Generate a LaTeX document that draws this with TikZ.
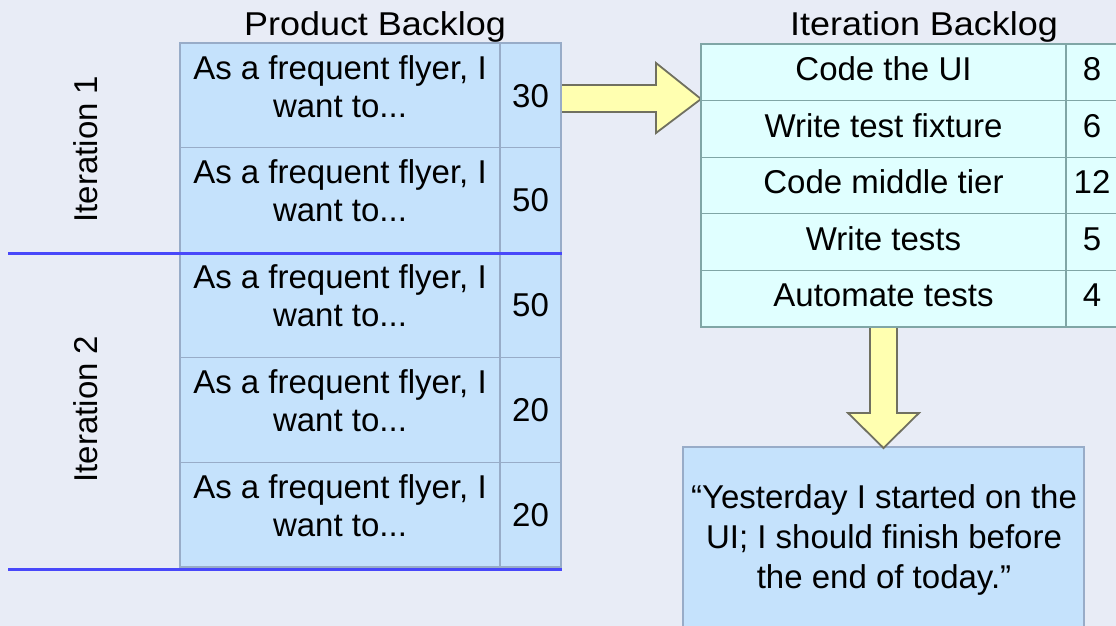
\documentclass[tikz,border=0pt]{standalone}
\usepackage{fontspec}
\usepackage{graphicx}
\setmainfont{Liberation Sans}
\usetikzlibrary{calc}

\definecolor{paper}{RGB}{232,236,246}
\definecolor{pbfill}{RGB}{197,226,252}
\definecolor{pbline}{RGB}{152,172,200}
\definecolor{ibfill}{RGB}{224,255,255}
\definecolor{ibline}{RGB}{128,166,166}
\definecolor{sepblue}{RGB}{72,72,250}
\definecolor{arrowfill}{RGB}{255,255,176}
\definecolor{arrowline}{RGB}{112,112,96}

\begin{document}
\begin{tikzpicture}[x=1pt,y=-1pt,
  every node/.style={inner sep=0pt, outer sep=0pt, font=\fontsize{33}{38}\selectfont},
  pcell/.style={draw=pbline, fill=pbfill, line width=1.2pt, anchor=north west, minimum height=104.8pt},
  icell/.style={draw=ibline, fill=ibfill, line width=1.2pt, anchor=north west, minimum height=56.6pt},
  quotebox/.style={draw=pbline, fill=pbfill, line width=1.2pt, anchor=north west, minimum width=401pt, minimum height=190pt},
  title/.style={anchor=base},
  celltext/.style={anchor=base},
  blockarrow/.style={draw=arrowline, fill=arrowfill, line width=1.8pt, line join=miter},
  separator/.style={draw=sepblue, line width=3pt}
]
% page and background paper
\useasboundingbox (0,0) rectangle (1116,626);
\fill[paper] (0,0) rectangle (1116,626);

% titles
\node[title] (ptitle) at (375,36) {\scalebox{1.09}[1]{Product Backlog}};
\node[title] (ititle) at (924,36) {\scalebox{1.09}[1]{Iteration Backlog}};

% anchor points used by the block arrows (tables are placed below)
\coordinate (itTopLeft) at (701,44);
\coordinate (quoteTop) at (683,447);

% quote box (drawn first so the down arrow can overlap its edge)
\node[quotebox] (quote) at (quoteTop) {};

% block arrow: product backlog -> iteration backlog
\coordinate (rtip) at ($(itTopLeft)+(0,55)$);
\draw[blockarrow] (rtip)
  -- ($(rtip)+(-45,34)$) -- ($(rtip)+(-45,13)$) -- ($(rtip)+(-156,13)$)
  -- ($(rtip)+(-156,-14)$) -- ($(rtip)+(-45,-14)$) -- ($(rtip)+(-45,-36)$) -- cycle;

% block arrow: iteration backlog -> daily stand-up quote
\coordinate (dtip) at ($(quote.north)+(0,1)$);
\draw[blockarrow] (dtip)
  -- ($(dtip)+(-35.5,-35)$) -- ($(dtip)+(-13.5,-35)$) -- ($(dtip)+(-13.5,-130)$)
  -- ($(dtip)+(13.5,-130)$) -- ($(dtip)+(13.5,-35)$) -- ($(dtip)+(35.5,-35)$) -- cycle;

% product backlog table
\foreach \i/\n in {1/30,2/50,3/50,4/20,5/20} {
  \pgfmathsetmacro\rowtop{43+104.8*(\i-1)}
  \node[pcell, minimum width=320pt] (pl\i) at (180,\rowtop) {};
  \node[pcell, minimum width=61pt] (pn\i) at (500,\rowtop) {};
  \node[celltext] (pt\i) at ($(pl\i.north)+(0,36)$)
    {\begin{tabular}[t]{@{}c@{}}As a frequent flyer, I\\want to...\end{tabular}};
  \node[celltext] (pv\i) at ($(pn\i.north)+(0,64)$) {\n};
}

% iteration backlog table
\foreach \i/\t/\n in {1/Code the UI/8,2/Write test fixture/6,3/Code middle tier/12,4/Write tests/5,5/Automate tests/4} {
  \pgfmathsetmacro\rowtop{44+56.6*(\i-1)}
  \node[icell, minimum width=365pt] (it\i) at (701,\rowtop) {};
  \node[icell, minimum width=52pt] (in\i) at (1066,\rowtop) {};
  \node[celltext] (itt\i) at ($(it\i.north)+(0,36.5)$) {\t};
  \node[celltext] (inv\i) at ($(in\i.north)+(0,36.5)$) {\n};
}

% quote text
\node[anchor=base, font=\fontsize{33}{40}\selectfont] (quotetext) at ($(quote.north)+(0.5,61)$)
  {\begin{tabular}[t]{@{}c@{}}“Yesterday I started on the\\UI; I should finish before\\the end of today.”\end{tabular}};

% iteration separators
\coordinate (sep1a) at (8,253);
\coordinate (sep1b) at (562,253);
\coordinate (sep2a) at (8,569);
\coordinate (sep2b) at (562,569);
\draw[separator] (sep1a) -- (sep1b);
\draw[separator] (sep2a) -- (sep2b);

% iteration labels
\node[rotate=90, anchor=base] (iter1) at (97,149) {Iteration 1};
\node[rotate=90, anchor=base] (iter2) at (97,409) {Iteration 2};
\end{tikzpicture}
\end{document}
